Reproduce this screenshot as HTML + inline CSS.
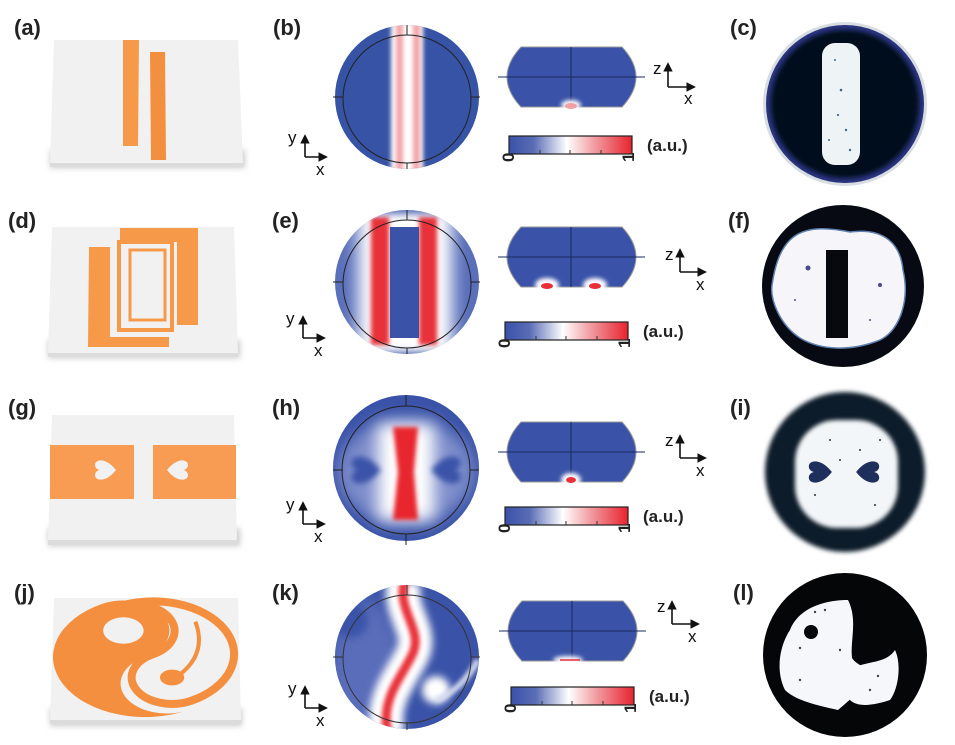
<!DOCTYPE html>
<html><head><meta charset="utf-8"><style>
html,body{margin:0;padding:0;background:#fff}
svg{display:block}
text{font-family:"Liberation Sans",sans-serif}
.lbl{font-weight:bold;font-size:22px;fill:#222}
.ax{font-size:17px;fill:#111}
.au{font-weight:bold;font-size:17px;fill:#222}
</style></head><body>
<svg width="955" height="745" viewBox="0 0 955 745" xmlns="http://www.w3.org/2000/svg">
<defs>
<linearGradient id="cb" x1="0" x2="1" y1="0" y2="0">
<stop offset="0" stop-color="#3a51a8"/><stop offset="0.2" stop-color="#5a6db6"/><stop offset="0.47" stop-color="#ffffff"/><stop offset="0.7" stop-color="#f19aa0"/><stop offset="1" stop-color="#e8232e"/>
</linearGradient>
<filter id="b2" x="-1" y="-1" width="3" height="3"><feGaussianBlur stdDeviation="2"/></filter>
<filter id="b4" x="-1" y="-1" width="3" height="3"><feGaussianBlur stdDeviation="4"/></filter>
<filter id="b8" x="-1" y="-1" width="3" height="3"><feGaussianBlur stdDeviation="8"/></filter>
<filter id="sh" x="-1" y="-1" width="3" height="3"><feGaussianBlur stdDeviation="3"/></filter>
<marker id="ar" viewBox="0 0 10 10" refX="8" refY="5" markerWidth="6" markerHeight="6" orient="auto"><path d="M0,0 L10,5 L0,10 Z" fill="#111"/></marker>
<clipPath id="cB"><circle cx="407" cy="97" r="72"/></clipPath>
<clipPath id="cE"><circle cx="407" cy="282" r="72"/></clipPath>
<clipPath id="cH"><circle cx="406" cy="468" r="73"/></clipPath>
<clipPath id="cK"><circle cx="407" cy="657" r="72"/></clipPath>
<path id="heart" d="M0,9 C-13,-1 -11,-12 -5,-12 C-2,-12 0,-9 0,-7 C0,-9 2,-12 5,-12 C11,-12 13,-1 0,9 Z"/>
</defs>

<text class="lbl" x="14" y="35">(a)</text>
<text class="lbl" x="273" y="35">(b)</text>
<text class="lbl" x="730" y="35">(c)</text>
<text class="lbl" x="8" y="228">(d)</text>
<text class="lbl" x="272" y="228">(e)</text>
<text class="lbl" x="728" y="228">(f)</text>
<text class="lbl" x="8" y="415">(g)</text>
<text class="lbl" x="272" y="415">(h)</text>
<text class="lbl" x="730" y="415">(i)</text>
<text class="lbl" x="14" y="600">(j)</text>
<text class="lbl" x="272" y="600">(k)</text>
<text class="lbl" x="733" y="600">(l)</text>

<g>
<rect x="50" y="150" width="195" height="18" fill="#ccc" filter="url(#sh)"/>
<polygon points="54,40 238,40 243,163 50,163" fill="#f1f1f1"/>
<polygon points="50,163 243,163 243,167 50,167" fill="#dcdcdc"/>
<polygon points="123,40 139,40 138,146 123,146" fill="#f69a4a"/>
<polygon points="150,52 165,52 166,160 151,160" fill="#f39040"/>
</g>
<g>
<rect x="48" y="340" width="192" height="18" fill="#ccc" filter="url(#sh)"/>
<polygon points="52,227 234,227 238,353 48,353" fill="#f1f1f1"/>
<polygon points="48,353 238,353 238,357 48,357" fill="#dcdcdc"/>
<path d="M89,247 H110 V337 H169 V347 H88 Z" fill="#f69a4a"/>
<path d="M120,228 H198 V325 H177 V242 H120 Z" fill="#f69a4a"/>
<rect x="119" y="242" width="53" height="88" fill="none" stroke="#f69a4a" stroke-width="4"/>
<rect x="130" y="250" width="35" height="70" fill="none" stroke="#f69a4a" stroke-width="3"/>
</g>
<g>
<rect x="48" y="528" width="192" height="18" fill="#ccc" filter="url(#sh)"/>
<polygon points="52,415 234,415 237,540 48,540" fill="#f1f1f1"/>
<polygon points="48,540 237,540 237,545 48,545" fill="#dcdcdc"/>
<rect x="50" y="445" width="84" height="54" fill="#f79c52"/>
<rect x="153" y="445" width="83" height="54" fill="#f79c52"/>
<use href="#heart" transform="translate(107,470) rotate(-90)" fill="#f1f1f1"/>
<use href="#heart" transform="translate(176,470) rotate(90)" fill="#f1f1f1"/>
</g>
<g>
<rect x="50" y="708" width="192" height="18" fill="#ccc" filter="url(#sh)"/>
<polygon points="54,598 238,598 241,720 50,720" fill="#f1f1f1"/>
<polygon points="50,720 241,720 241,724 50,724" fill="#dcdcdc"/>
<g transform="translate(145,657) scale(92,60) rotate(-28)">
<path d="M0,-1 A1,1 0 0,0 0,1 A.5,.5 0 0,1 0,0 A.5,.5 0 0,0 0,-1 Z" fill="#f38f3f"/>
<circle cx="0" cy="-0.5" r="0.22" fill="#f1f1f1"/>
<g transform="translate(0.1,0) scale(0.88)">
<path d="M0,-1 A1,1 0 0,1 0,1 A.5,.5 0 0,1 0,0 A.5,.5 0 0,0 0,-1 Z" fill="none" stroke="#f38f3f" stroke-width="8" vector-effect="non-scaling-stroke"/>
<circle cx="0" cy="0.5" r="0.15" fill="#f38f3f"/>
<path d="M0.1,0.5 Q0.6,0.3 0.75,-0.3" fill="none" stroke="#f38f3f" stroke-width="4" vector-effect="non-scaling-stroke"/>
</g>
</g>
</g>

<!-- (b) -->
<g clip-path="url(#cB)">
<rect x="330" y="20" width="160" height="160" fill="#3653a5"/>
<rect x="391" y="20" width="32" height="160" fill="#fff" filter="url(#b2)"/>
<rect x="396" y="20" width="7" height="160" fill="#f2a3a6" filter="url(#b2)"/>
<rect x="413" y="20" width="7" height="160" fill="#f2a3a6" filter="url(#b2)"/>
</g>
<g fill="none" stroke="#222" stroke-width="1">
<circle cx="407" cy="99" r="64"/>
<path d="M333,97 H343 M471,97 H480 M407,25 V35 M407,163 V169"/>
</g>
<!-- (e) -->
<g clip-path="url(#cE)">
<rect x="330" y="205" width="160" height="160" fill="#5a6fba"/>
<rect x="358" y="205" width="94" height="160" fill="#fff" filter="url(#b8)"/>
<rect x="371" y="217" width="18" height="128" fill="#e8303a" filter="url(#b2)"/>
<rect x="419" y="217" width="18" height="128" fill="#e8303a" filter="url(#b2)"/>
<rect x="390" y="227" width="29" height="111" fill="#3a53a8"/>
<rect x="330" y="200" width="160" height="13" fill="#4a62b0" filter="url(#b4)"/>
<rect x="330" y="352" width="160" height="15" fill="#4a62b0" filter="url(#b4)"/>
</g>
<g fill="none" stroke="#222" stroke-width="1">
<circle cx="407" cy="284" r="64"/>
<path d="M333,282 H343 M471,282 H480 M407,210 V220 M407,348 V354"/>
</g>
<!-- (h) -->
<g clip-path="url(#cH)">
<rect x="330" y="390" width="160" height="160" fill="#3a53a8"/>
<ellipse cx="406" cy="472" rx="68" ry="52" fill="#7f8fcc" filter="url(#b8)"/>
<rect x="378" y="424" width="56" height="96" fill="#fff" filter="url(#b8)"/>
<path d="M393,427 H418 L414,472 L418,520 H393 L398,472 Z" fill="#e8262f" filter="url(#b2)"/>
<use href="#heart" transform="translate(368,470) rotate(-90) scale(1.4)" fill="#3a53a8" filter="url(#b2)"/>
<use href="#heart" transform="translate(444,470) rotate(90) scale(1.4)" fill="#3a53a8" filter="url(#b2)"/>
</g>
<g fill="none" stroke="#222" stroke-width="1">
<circle cx="406" cy="470" r="64"/>
<path d="M333,470 H343 M470,470 H479 M406,395 V406 M406,534 V545"/>
</g>
<!-- (k) -->
<g clip-path="url(#cK)">
<rect x="330" y="580" width="160" height="160" fill="#3a53a8"/>
<ellipse cx="365" cy="670" rx="35" ry="70" fill="#5a6dba" filter="url(#b8)"/>
<path d="M405,580 C395,610 425,630 412,655 C400,680 380,700 388,735" fill="none" stroke="#fff" stroke-width="34" filter="url(#b4)"/>
<path d="M405,580 C395,610 425,630 412,655 C400,680 380,700 388,735" fill="none" stroke="#e8303a" stroke-width="9" filter="url(#b2)"/>
<circle cx="350" cy="620" r="18" fill="#3a53a8" filter="url(#b4)"/>
<circle cx="436" cy="690" r="14" fill="#fff" filter="url(#b4)"/>
<path d="M436,700 Q462,690 478,660" stroke="#d7dcf0" stroke-width="6" fill="none" filter="url(#b2)"/>
</g>
<g fill="none" stroke="#333" stroke-width="1">
<circle cx="407" cy="659" r="64"/>
<path d="M333,657 H343 M471,657 H480 M407,585 V595 M407,722 V730"/>
</g>

<g stroke="#111" stroke-width="1.6" fill="none">
<path d="M305,157 V136" marker-end="url(#ar)"/><path d="M305,157 H326" marker-end="url(#ar)"/>
<path d="M303,338 V317" marker-end="url(#ar)"/><path d="M303,338 H324" marker-end="url(#ar)"/>
<path d="M303,524 V503" marker-end="url(#ar)"/><path d="M303,524 H324" marker-end="url(#ar)"/>
<path d="M305,708 V687" marker-end="url(#ar)"/><path d="M305,708 H326" marker-end="url(#ar)"/>
</g>
<text class="ax" x="288" y="143">y</text><text class="ax" x="316" y="175">x</text>
<text class="ax" x="286" y="324">y</text><text class="ax" x="314" y="356">x</text>
<text class="ax" x="286" y="510">y</text><text class="ax" x="314" y="542">x</text>
<text class="ax" x="288" y="694">y</text><text class="ax" x="316" y="726">x</text>

<g id="xs">
<path d="M521,47 H622 Q650,77 622,107 H521 Q493,77 521,47 Z" fill="#3a53a8" stroke="#999" stroke-width="1"/>
<path d="M498,77 H645 M571,47 V107" stroke="#1a2a60" stroke-width="1"/>
</g>
<ellipse cx="571" cy="105" rx="10" ry="5" fill="#fff" filter="url(#b2)"/>
<ellipse cx="571" cy="106" rx="6" ry="3" fill="#f0a0a5"/>
<use href="#xs" transform="translate(0,180)"/>
<ellipse cx="547" cy="285" rx="12" ry="7" fill="#fff" filter="url(#b2)"/>
<ellipse cx="595" cy="285" rx="12" ry="7" fill="#fff" filter="url(#b2)"/>
<ellipse cx="547" cy="286" rx="6" ry="3" fill="#e8303a"/>
<ellipse cx="595" cy="286" rx="6" ry="3" fill="#e8303a"/>
<use href="#xs" transform="translate(0,375)"/>
<ellipse cx="571" cy="480" rx="10" ry="7" fill="#fff" filter="url(#b2)"/>
<ellipse cx="571" cy="480" rx="5" ry="3" fill="#e8303a"/>
<use href="#xs" transform="translate(1,554)"/>
<ellipse cx="568" cy="660" rx="15" ry="4" fill="#fff" filter="url(#b2)"/>
<line x1="560" y1="660" x2="580" y2="660" stroke="#e8303a" stroke-width="1.5"/>

<g id="cbar">
<rect x="509" y="136" width="123" height="18" fill="url(#cb)" stroke="#222" stroke-width="1.2"/>
<path d="M540,150 V154 M570,150 V154 M601,150 V154" stroke="#333" stroke-width="1"/>
<text x="516" y="168" transform="rotate(-90 512 166)" style="font-weight:bold;font-size:17px;fill:#222">0</text>
<text x="636" y="168" transform="rotate(-90 632 166)" style="font-weight:bold;font-size:17px;fill:#222">1</text>
<text class="au" x="647" y="151">(a.u.)</text>
</g>
<use href="#cbar" transform="translate(-4,186)"/>
<use href="#cbar" transform="translate(-4,371)"/>
<use href="#cbar" transform="translate(2,551)"/>

<g stroke="#111" stroke-width="1.6" fill="none">
<path d="M668,87 V64" marker-end="url(#ar)"/><path d="M668,87 H694" marker-end="url(#ar)"/>
<path d="M680,272 V250" marker-end="url(#ar)"/><path d="M680,272 H705" marker-end="url(#ar)"/>
<path d="M680,458 V436" marker-end="url(#ar)"/><path d="M680,458 H705" marker-end="url(#ar)"/>
<path d="M672,624 V602" marker-end="url(#ar)"/><path d="M672,624 H698" marker-end="url(#ar)"/>
</g>
<text class="ax" x="653" y="74">z</text><text class="ax" x="684" y="104">x</text>
<text class="ax" x="665" y="260">z</text><text class="ax" x="696" y="290">x</text>
<text class="ax" x="665" y="446">z</text><text class="ax" x="696" y="476">x</text>
<text class="ax" x="657" y="612">z</text><text class="ax" x="688" y="642">x</text>

<circle cx="845" cy="104" r="82" fill="#d8dde2"/>
<circle cx="845" cy="104" r="79" fill="#2a3580"/>
<circle cx="845" cy="104" r="74" fill="#060a1a" filter="url(#b2)"/>
<rect x="822" y="43" width="38" height="122" rx="13" fill="#eef3f6"/>
<g fill="#3a6a8a"><circle cx="841" cy="90" r="1.3"/><circle cx="838" cy="115" r="1.1"/><circle cx="846" cy="130" r="1.2"/><circle cx="835" cy="60" r="1"/><circle cx="850" cy="150" r="1.2"/><circle cx="829" cy="140" r="1"/></g>

<circle cx="843" cy="286" r="81" fill="#070a12"/>
<path d="M790,240 C805,225 830,228 850,232 C880,228 900,240 903,270 C910,300 900,330 880,340 C850,352 820,350 800,338 C780,325 770,300 772,285 C775,265 780,250 790,240 Z" fill="#f6f6fa" stroke="#6080b0" stroke-width="1.5"/>
<rect x="826" y="250" width="22" height="88" fill="#07090f"/>
<g fill="#4a4a8a"><circle cx="808" cy="268" r="2.5"/><circle cx="880" cy="285" r="2"/><circle cx="795" cy="300" r="1"/><circle cx="870" cy="320" r="1"/></g>

<circle cx="845" cy="472" r="80" fill="#0e1a2a" filter="url(#b2)"/>
<rect x="795" y="420" width="103" height="108" rx="42" fill="#f3f6f8" filter="url(#b2)"/>
<use href="#heart" transform="translate(822,472) rotate(-90) scale(1.1)" fill="#1d2f5a"/>
<use href="#heart" transform="translate(866,472) rotate(90) scale(1.1)" fill="#1d2f5a"/>
<g fill="#333"><circle cx="830" cy="440" r="1"/><circle cx="860" cy="450" r="1"/><circle cx="815" cy="495" r="1"/><circle cx="875" cy="505" r="1"/><circle cx="840" cy="460" r="1"/><circle cx="880" cy="440" r="1"/></g>

<circle cx="845" cy="655" r="82" fill="#050608"/>
<path d="M790,630 C800,605 830,600 848,600 C858,620 850,640 852,658 C860,670 878,668 880,675 C860,690 850,700 838,710 C815,705 795,700 785,690 C775,670 780,645 790,630 Z" fill="#f5f7fa"/>
<path d="M850,670 C865,660 885,665 895,650 C902,665 898,690 890,700 C875,705 858,708 850,700 C845,690 845,680 850,670 Z" fill="#f5f7fa"/>
<circle cx="811" cy="632" r="7" fill="#050608"/>
<g fill="#444"><circle cx="815" cy="612" r="1.2"/><circle cx="825" cy="610" r="1.2"/><circle cx="800" cy="648" r="1.2"/><circle cx="800" cy="680" r="1.2"/><circle cx="840" cy="650" r="1.2"/><circle cx="870" cy="690" r="1.2"/><circle cx="878" cy="676" r="1.2"/></g>
</svg>
</body></html>
